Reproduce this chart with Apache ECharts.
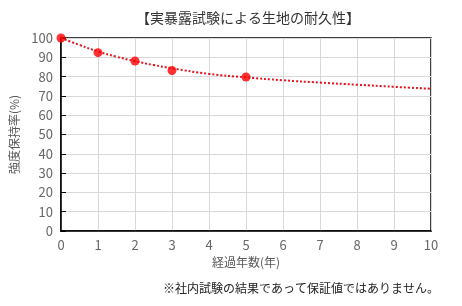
<!DOCTYPE html>
<html><head><meta charset="utf-8">
<script src="https://cdn.jsdelivr.net/npm/echarts@6/dist/echarts.min.js"></script>
<style>html,body{margin:0;padding:0;background:#fff}#c{width:462px;height:306px}</style>
</head><body><div id="c"></div>
<script>
const titleText = '【実暴露試験による生地の耐久性】';
const xName = '経過年数(年)';
const yName = '強度保持率(%)';
const noteText = '※社内試験の結果であって保証値ではありません。';
const pointYears = [0, 1, 2, 3, 5];
const pointValues = [100, 92.4, 88.1, 83.1, 79.8];
const trendYears = [0, 0.5, 1, 1.5, 2, 2.5, 3, 4, 5, 6, 7, 8, 9, 10];
const trendValues = [100, 96.4, 93, 90.3, 88, 86, 84.3, 81.4, 79.6, 78.1, 76.9, 75.8, 74.7, 73.7];

const font = '"Noto Sans CJK JP", sans-serif';
const chart = echarts.init(document.getElementById('c'), null, {renderer: 'canvas'});
chart.setOption({
  animation: false,
  backgroundColor: '#fff',
  title: {text: titleText, left: 243, top: 6, textAlign: 'center',
    textStyle: {fontFamily: font, fontSize: 14, fontWeight: 'normal', color: '#333'}},
  graphic: [{type: 'text', right: 23, top: 282,
    style: {text: noteText, font: '12px ' + font, fill: '#222'}}],
  grid: {left: 61, right: 31, top: 38, bottom: 75, show: true, borderColor: '#000', borderWidth: 1.5},
  xAxis: {type: 'value', min: 0, max: 10, interval: 1,
    name: xName, nameLocation: 'middle', nameGap: 24,
    nameTextStyle: {fontFamily: font, fontSize: 12, color: '#595959'},
    axisLine: {lineStyle: {color: '#000', width: 1.5}},
    axisTick: {show: false},
    axisLabel: {fontFamily: font, fontSize: 13, color: '#666', margin: 8},
    splitLine: {show: true, lineStyle: {color: '#d9d9d9'}}},
  yAxis: {type: 'value', min: 0, max: 100, interval: 10,
    name: yName, nameLocation: 'middle', nameGap: 38,
    nameTextStyle: {fontFamily: font, fontSize: 12, color: '#595959'},
    axisLine: {show: true, lineStyle: {color: '#000', width: 1.5}},
    axisTick: {show: true, inside: true, length: 5, lineStyle: {color: '#000'}},
    axisLabel: {fontFamily: font, fontSize: 13, color: '#666', margin: 8},
    splitLine: {show: true, lineStyle: {color: '#d9d9d9'}}},
  series: [
    {type: 'line', data: trendYears.map((x, i) => [x, trendValues[i]]), smooth: true,
      showSymbol: false, lineStyle: {color: '#e0141e', width: 2, type: [2, 2]}, z: 2},
    {type: 'scatter', data: pointYears.map((x, i) => [x, pointValues[i]]),
      symbolSize: 9, itemStyle: {color: '#ff0000'}, z: 3}
  ]
});
</script></body></html>
